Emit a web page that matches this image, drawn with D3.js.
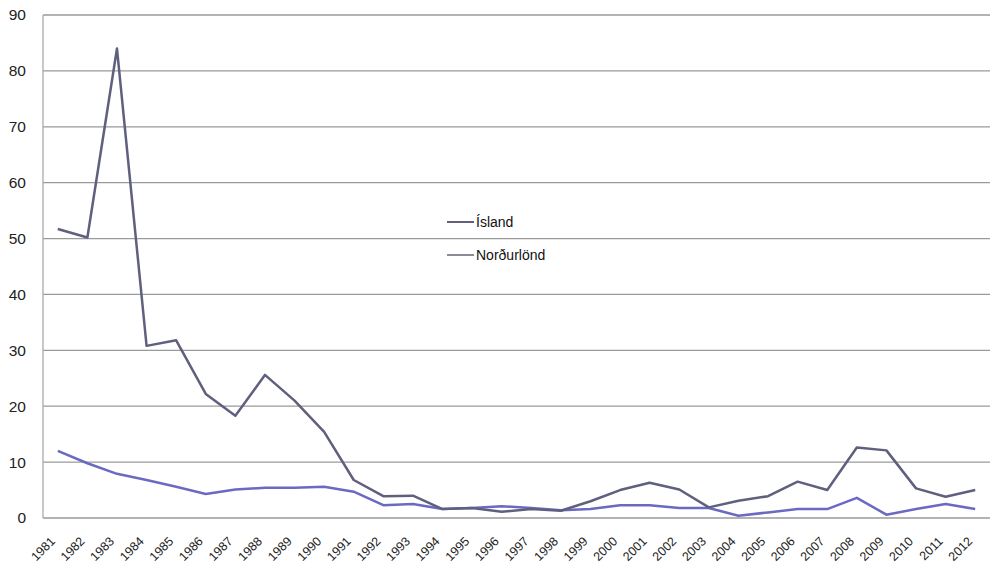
<!DOCTYPE html>
<html>
<head>
<meta charset="utf-8">
<script src="https://cdn.jsdelivr.net/npm/d3@7"></script>
<style>
  body { margin: 0; background: #fff; }
  svg { display: block; font-family: "Liberation Sans", Arial, sans-serif; }
</style>
</head>
<body>
<svg id="chart" width="993" height="569"></svg>
<script>
const years = d3.range(1981, 2013).map(String);

const island = [51.7, 50.2, 84.0, 30.8, 31.8, 22.2, 18.3, 25.6, 21.0, 15.4,
  6.8, 3.9, 4.0, 1.6, 1.8, 1.1, 1.6, 1.3, 3.0, 5.0,
  6.3, 5.1, 1.9, 3.1, 3.9, 6.5, 5.0, 12.6, 12.1, 5.3, 3.8, 5.0];

const nordurlond = [12.0, 9.8, 7.9, 6.8, 5.6, 4.3, 5.1, 5.4, 5.4, 5.6,
  4.7, 2.3, 2.5, 1.6, 1.8, 2.1, 1.8, 1.4, 1.6, 2.3,
  2.3, 1.8, 1.8, 0.4, 1.0, 1.6, 1.6, 3.6, 0.6, 1.6, 2.5, 1.6];

const yTicks = [0, 10, 20, 30, 40, 50, 60, 70, 80, 90];

const series = [
  { name: "Ísland", values: island, color: "#5f5f7e" },
  { name: "Norðurlönd", values: nordurlond, color: "#6a6ac2" }
];

const svg = d3.select("#chart");
const margin = { top: 15, right: 3, bottom: 51, left: 43 };
const width = 993 - margin.left - margin.right;
const height = 569 - margin.top - margin.bottom;

const g = svg.append("g").attr("transform", `translate(${margin.left},${margin.top})`);

const x = d3.scalePoint().domain(years).range([0, width]).padding(0.5);
const y = d3.scaleLinear().domain([0, 90]).range([height, 0]);

// gridlines
g.append("g")
  .selectAll("line")
  .data(yTicks)
  .join("line")
  .attr("x1", 0)
  .attr("x2", width)
  .attr("y1", d => y(d))
  .attr("y2", d => y(d))
  .attr("stroke", "#9a9a9a")
  .attr("stroke-width", 1.3);

// left axis line
g.append("line")
  .attr("x1", 0).attr("x2", 0)
  .attr("y1", 0).attr("y2", height)
  .attr("stroke", "#aaa")
  .attr("stroke-width", 1.3);

// y labels
g.append("g")
  .selectAll("text")
  .data(yTicks)
  .join("text")
  .attr("x", -17)
  .attr("y", d => y(d))
  .attr("dy", "0.35em")
  .attr("text-anchor", "end")
  .attr("font-size", 15.5)
  .attr("fill", "#222")
  .text(d => d);

// x labels rotated
g.append("g")
  .selectAll("text")
  .data(years)
  .join("text")
  .attr("text-anchor", "end")
  .attr("font-size", 12.5)
  .attr("fill", "#222")
  .attr("transform", d => `translate(${x(d) - 2},${height + 24}) rotate(-45)`)
  .text(d => d);

const line = d3.line()
  .x((d, i) => x(years[i]))
  .y(d => y(d));

// draw Norðurlönd first, then Ísland on top
[...series].reverse().forEach(s => {
  g.append("path")
    .datum(s.values)
    .attr("fill", "none")
    .attr("stroke", s.color)
    .attr("stroke-width", 2.5)
    .attr("stroke-linejoin", "round")
    .attr("d", line);
});

// legend
const legend = svg.append("g").attr("transform", "translate(447,222)");
series.forEach((s, i) => {
  const row = legend.append("g").attr("transform", `translate(0,${i * 33})`);
  row.append("line")
    .attr("x1", 0).attr("x2", 27)
    .attr("stroke", i === 0 ? "#5f5f7e" : "#8a8a9a")
    .attr("stroke-width", 2);
  row.append("text")
    .attr("x", 29)
    .attr("dy", "0.35em")
    .attr("font-size", 14)
    .attr("fill", "#111")
    .text(s.name);
});
</script>
</body>
</html>
